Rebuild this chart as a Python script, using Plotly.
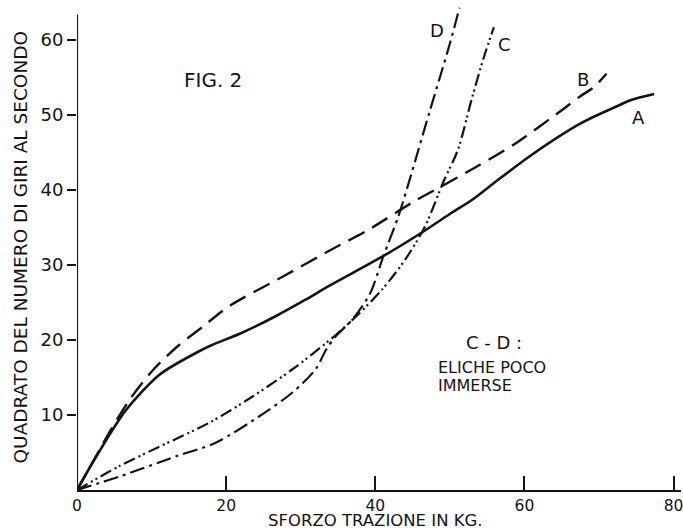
import plotly.graph_objects as go

# ---- data ----
A_x = [0, 2.6, 6.6, 11.1, 16, 17.8, 22.2, 26.7, 30.7, 33.8, 41.1, 46.2, 50, 53, 56, 61, 67.6, 72.5, 74.3, 77.4]
A_y = [0, 4.5, 10.7, 15.4, 18.3, 19.2, 21, 23.2, 25.4, 27.2, 31.2, 34.3, 36.8, 38.7, 41, 44.7, 48.9, 51.2, 52, 52.8]

B_x = [0, 2, 4.4, 7.1, 10.2, 13.3, 16.9, 20.4, 27.5, 34.2, 39.1, 44.9, 48.9, 53.4, 58.5, 65.5, 67.5, 69.3, 71]
B_y = [0, 3.5, 7.8, 12.1, 16, 19, 21.8, 24.5, 28.4, 32.1, 34.7, 38.3, 40.5, 43, 46, 51, 52.5, 53.7, 55.5]

C_x = [0, 5.7, 11.1, 17.8, 23.6, 28.9, 34.5, 37.8, 40.9, 44, 46.7, 49.1, 51.1, 52.9, 54.5, 55.9]
C_y = [0, 3.2, 5.8, 9, 12.5, 16.1, 20.5, 23.5, 26.7, 30.7, 35.2, 41, 45.4, 52, 57.5, 61.7]

D_x = [0, 5.7, 13.3, 18.6, 24.4, 28.9, 32, 33.4, 34.7, 36.9, 39.3, 41.1, 43.1, 44.5, 45.8, 47.3, 48.6, 50, 51.3]
D_y = [0, 1.8, 4.5, 6.3, 9.8, 13, 16.1, 18.7, 20.5, 22.7, 26.2, 31.2, 36.5, 41, 45.4, 50.5, 54.8, 59.5, 64.3]

X_TICKS = [0, 20, 40, 60, 80]
Y_TICKS = [10, 20, 30, 40, 50, 60]
X_MAX = 81.0
Y_MAX = 65.33
Y_AXIS_TOP = 63.4

X_TITLE = "SFORZO TRAZIONE IN KG."
Y_TITLE = "QUADRATO DEL NUMERO DI GIRI AL SECONDO"
FIG_TITLE = "FIG. 2"

INK = "#141414"
FONT = "DejaVu Sans"

series = [
    ("A", A_x, A_y, "solid", 2.6),
    ("B", B_x, B_y, "18px,9px", 2.4),
    ("C", C_x, C_y, "12px,4px,2px,3px,2px,4px", 2.2),
    ("D", D_x, D_y, "15px,5px,3px,5px", 2.2),
]

fig = go.Figure()
for name, xs, ys, dash, w in series:
    fig.add_trace(go.Scatter(
        x=xs, y=ys, mode="lines", name=name,
        line=dict(color=INK, width=w, dash=dash, shape="spline", smoothing=0.8),
        showlegend=False, hoverinfo="skip",
    ))

# curve labels
labels = [("D", 48.3, 61.3), ("C", 57.3, 59.4), ("B", 67.9, 54.7), ("A", 75.3, 49.7)]
annotations = []
for t, x, y in labels:
    annotations.append(dict(x=x, y=y, xref="x", yref="y", text=t, showarrow=False,
                            font=dict(family=FONT, size=18, color=INK)))

annotations += [
    dict(x=18.3, y=54.6, xref="x", yref="y", text=FIG_TITLE, showarrow=False,
         font=dict(family=FONT, size=20, color=INK)),
    dict(x=55.9, y=19.6, xref="x", yref="y", text="C - D :", showarrow=False,
         font=dict(family=FONT, size=18, color=INK)),
    dict(x=48.1, y=16.3, xref="x", yref="y", text="ELICHE POCO", showarrow=False,
         xanchor="left", font=dict(family=FONT, size=16, color=INK)),
    dict(x=48.1, y=13.9, xref="x", yref="y", text="IMMERSE", showarrow=False,
         xanchor="left", font=dict(family=FONT, size=16, color=INK)),
    dict(x=40, y=0, xref="x", yref="paper", text=X_TITLE, showarrow=False,
         yanchor="bottom", yshift=-42, font=dict(family=FONT, size=16.5, color=INK)),
    dict(x=0, y=0.495, xref="paper", yref="paper", text=Y_TITLE, showarrow=False,
         textangle=-90, xanchor="center", yanchor="middle", xshift=-57,
         font=dict(family=FONT, size=18.5, color=INK)),
]

fig.update_layout(
    width=683, height=532,
    margin=dict(l=77, r=0, t=0, b=42),
    paper_bgcolor="white", plot_bgcolor="white",
    annotations=annotations,
    shapes=[dict(type="line", xref="x", yref="y", x0=0, x1=0, y0=0, y1=Y_AXIS_TOP,
                 line=dict(color=INK, width=2.2))],
    xaxis=dict(range=[0, X_MAX], tickvals=X_TICKS, ticktext=[str(v) for v in X_TICKS],
               showgrid=False, zeroline=False, showline=True, linecolor=INK, linewidth=2.2,
               ticks="inside", ticklen=14, tickwidth=2, tickcolor=INK,
               ticklabeloverflow="allow", ticklabelstandoff=0,
               tickfont=dict(family=FONT, size=15.5, color=INK)),
    yaxis=dict(range=[0, Y_MAX], tickvals=Y_TICKS, ticktext=[str(v) for v in Y_TICKS],
               showgrid=False, zeroline=False, showline=False,
               ticks="outside", ticklen=9, tickwidth=2, tickcolor=INK,
               tickfont=dict(family=FONT, size=18, color=INK)),
)

fig.write_html("out.html", config={"displayModeBar": False},
               post_script="document.body.style.margin='0';")
